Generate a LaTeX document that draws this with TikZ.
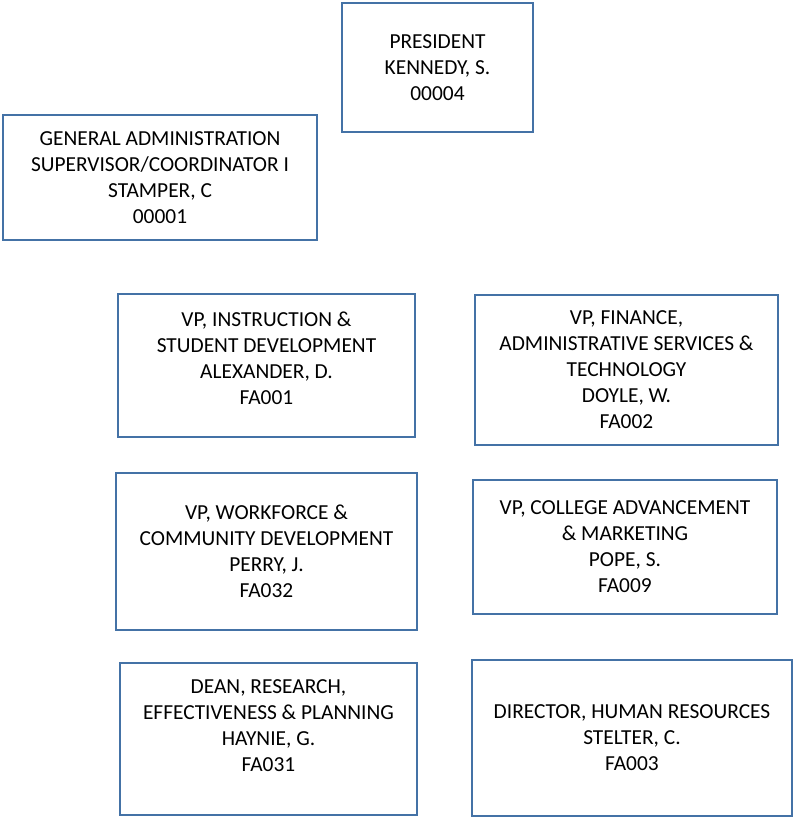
\documentclass[tikz,border=0pt]{standalone}
\usepackage{fontspec}
\setmainfont{Carlito}
\usepackage{tikz}
\definecolor{boxblue}{RGB}{68,114,166}

\begin{document}
\begin{tikzpicture}[x=1pt, y=-1pt,
	unit/.style={draw=boxblue, line width=2.2pt, align=center, inner sep=0pt,
		font=\fontsize{21.4}{26}\selectfont}]
	\useasboundingbox (0,0) rectangle (793,817);
	
	\node[unit, minimum width=191pt, minimum height=129pt] (pres) at (437.5, 67.5)
		{PRESIDENT\\KENNEDY, S.\\00004};
	
	\node[unit, minimum width=314pt, minimum height=125pt] (genadmin) at (160, 177.5)
		{GENERAL ADMINISTRATION\\SUPERVISOR/COORDINATOR I\\STAMPER, C\\00001};
	
	\node[unit, minimum width=297pt, minimum height=143pt, text depth=15pt] (vpinst) at (266.5, 365.5)
		{VP, INSTRUCTION \&\\STUDENT DEVELOPMENT\\ALEXANDER, D.\\FA001};
	
	\node[unit, minimum width=303pt, minimum height=150pt] (vpfin) at (626.5, 370)
		{VP, FINANCE,\\ADMINISTRATIVE SERVICES \&\\TECHNOLOGY\\DOYLE, W.\\FA002};
	
	\node[unit, minimum width=301pt, minimum height=157pt] (vpwork) at (266.5, 551.5)
		{VP, WORKFORCE \&\\COMMUNITY DEVELOPMENT\\PERRY, J.\\FA032};
	
	\node[unit, minimum width=304pt, minimum height=134pt] (vpcoll) at (625, 547)
		{VP, COLLEGE ADVANCEMENT\\\& MARKETING\\POPE, S.\\FA009};
	
	\node[unit, minimum width=297pt, minimum height=152pt, text depth=27pt] (dean) at (268.5, 739)
		{DEAN, RESEARCH,\\EFFECTIVENESS \& PLANNING\\HAYNIE, G.\\FA031};
	
	\node[unit, minimum width=320pt, minimum height=156pt] (hrdir) at (632, 738)
		{DIRECTOR, HUMAN RESOURCES\\STELTER, C.\\FA003};
\end{tikzpicture}
\end{document}
